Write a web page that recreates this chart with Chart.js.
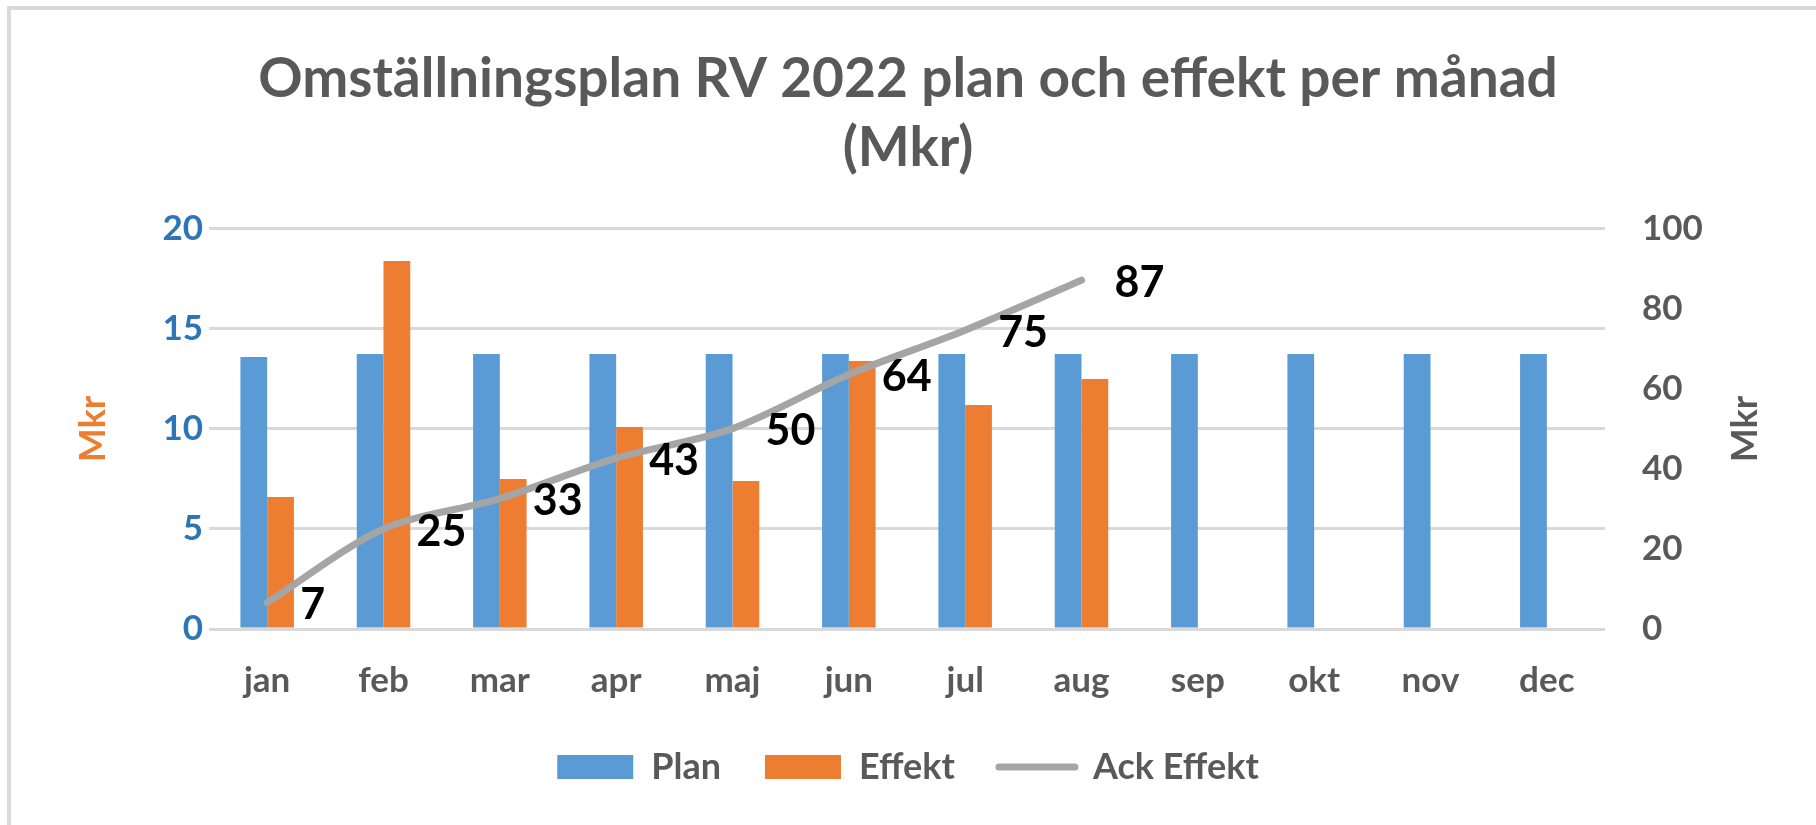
<!DOCTYPE html>
<html lang="sv">
<head>
    <meta charset="UTF-8">
    <title>Omställningsplan RV 2022</title>
    <script src="https://cdn.jsdelivr.net/npm/chart.js"></script>
    <style>
        html, body { margin: 0; padding: 0; background: #fff; }
    </style>
</head>
<body>
    <canvas id="planChart" width="1816" height="825"></canvas>

    <script>
        // Data (Mkr)
        const months = ['jan', 'feb', 'mar', 'apr', 'maj', 'jun', 'jul', 'aug', 'sep', 'okt', 'nov', 'dec'];
        const plan = [13.6, 13.75, 13.75, 13.75, 13.75, 13.75, 13.75, 13.75, 13.75, 13.75, 13.75, 13.75];
        const effekt = [6.6, 18.4, 7.5, 10.1, 7.4, 13.4, 11.2, 12.5];
        const ackEffekt = [6.6, 25.0, 32.6, 42.7, 50.1, 63.6, 74.7, 87.2];
        const leftTicks = [0, 5, 10, 15, 20];
        const rightTicks = [0, 20, 40, 60, 80, 100];

        const FONT = "Lato, 'Open Sans', sans-serif";
        const GREY_TEXT = '#595959';
        Chart.defaults.font.family = FONT;

        // bakgrund + ram (övre och vänster kant)
        const frame = {
            id: 'frame',
            beforeDraw(chart) {
                const ctx = chart.ctx;
                ctx.save();
                ctx.fillStyle = '#ffffff';
                ctx.fillRect(0, 0, chart.width, chart.height);
                ctx.fillStyle = '#dadada';
                ctx.fillRect(7, 6, chart.width - 7, 4);
                ctx.fillRect(7, 6, 4, chart.height - 6);
                ctx.restore();
            }
        };

        // etiketter för ackumulerad effekt, till höger om punkten
        const ackLabels = {
            id: 'ackLabels',
            afterDatasetsDraw(chart) {
                const ctx = chart.ctx;
                const meta = chart.getDatasetMeta(2);
                ctx.save();
                ctx.font = 'bold 43px ' + FONT;
                ctx.fillStyle = '#000000';
                ctx.textAlign = 'left';
                ctx.textBaseline = 'middle';
                meta.data.forEach((pt, i) => {
                    ctx.fillText(String(Math.round(ackEffekt[i])), pt.x + 33, pt.y + 3);
                });
                ctx.restore();
            }
        };

        // höger axeltitel, läses nedifrån och upp som den vänstra
        const rightTitle = {
            id: 'rightTitle',
            afterDraw(chart) {
                const ctx = chart.ctx;
                const area = chart.chartArea;
                ctx.save();
                ctx.translate(1745, (area.top + area.bottom) / 2);
                ctx.rotate(-Math.PI / 2);
                ctx.font = 'bold 36px ' + FONT;
                ctx.fillStyle = GREY_TEXT;
                ctx.textAlign = 'center';
                ctx.textBaseline = 'middle';
                ctx.fillText('Mkr', 0, 0);
                ctx.restore();
            }
        };

        const ctx = document.getElementById('planChart').getContext('2d');
        const planChart = new Chart(ctx, {
            type: 'bar',
            data: {
                labels: months,
                datasets: [
                    {
                        label: 'Plan',
                        data: plan,
                        backgroundColor: '#5B9BD5',
                        yAxisID: 'y',
                        order: 1
                    },
                    {
                        label: 'Effekt',
                        data: effekt,
                        backgroundColor: '#ED7D31',
                        yAxisID: 'y',
                        order: 1
                    },
                    {
                        type: 'line',
                        label: 'Ack Effekt',
                        data: ackEffekt,
                        yAxisID: 'y1',
                        borderColor: '#A5A5A5',
                        backgroundColor: '#A5A5A5',
                        borderWidth: 7,
                        borderCapStyle: 'round',
                        borderJoinStyle: 'round',
                        pointRadius: 0,
                        tension: 0.3,
                        fill: false,
                        order: 0
                    }
                ]
            },
            options: {
                responsive: false,
                animation: false,
                layout: { padding: { left: 10, right: 10, top: 8, bottom: 30 } },
                datasets: {
                    bar: { categoryPercentage: 0.46, barPercentage: 1.0 }
                },
                plugins: {
                    tooltip: { enabled: false },
                    title: {
                        display: true,
                        text: ['Omställningsplan RV 2022 plan och effekt per månad', '(Mkr)'],
                        color: GREY_TEXT,
                        font: { size: 55, weight: 'bold', lineHeight: 1.2545 },
                        padding: { top: 36.5, bottom: 46.5 }
                    },
                    legend: {
                        position: 'bottom',
                        labels: {
                            color: GREY_TEXT,
                            font: { size: 36, weight: 'bold' },
                            usePointStyle: true,
                            pointStyleWidth: 76,
                            boxWidth: 76,
                            boxHeight: 24,
                            padding: 44,
                            generateLabels: chart => chart.data.datasets.map((ds, i) => ({
                                text: ds.label,
                                fillStyle: ds.backgroundColor,
                                strokeStyle: ds.type === 'line' ? ds.borderColor : ds.backgroundColor,
                                lineWidth: ds.type === 'line' ? ds.borderWidth : 0,
                                lineCap: 'round',
                                pointStyle: ds.type === 'line' ? 'line' : 'rect',
                                fontColor: GREY_TEXT,
                                hidden: false,
                                datasetIndex: i
                            }))
                        }
                    }
                },
                scales: {
                    x: {
                        grid: { display: false, drawTicks: false },
                        border: { display: false },
                        ticks: {
                            color: GREY_TEXT,
                            font: { size: 35, weight: 'bold' },
                            padding: 31
                        },
                        afterFit: scale => { scale.height = 76; }
                    },
                    y: {
                        position: 'left',
                        min: 0,
                        max: 20,
                        afterBuildTicks: scale => { scale.ticks = leftTicks.map(v => ({ value: v })); },
                        ticks: {
                            color: '#2E75B6',
                            font: { size: 35, weight: 'bold' },
                            padding: 6
                        },
                        grid: { color: '#D9D9D9', lineWidth: 3, drawTicks: false },
                        border: { display: false },
                        title: {
                            display: true,
                            text: 'Mkr',
                            color: '#ED7D31',
                            font: { size: 36, weight: 'bold' },
                            padding: { top: 61.5, bottom: 0 }
                        },
                        afterFit: scale => { scale.width = 199; }
                    },
                    y1: {
                        position: 'right',
                        min: 0,
                        max: 100,
                        afterBuildTicks: scale => { scale.ticks = rightTicks.map(v => ({ value: v })); },
                        ticks: {
                            color: GREY_TEXT,
                            font: { size: 35, weight: 'bold' },
                            padding: 37
                        },
                        grid: { display: false, drawTicks: false },
                        border: { display: false },
                        afterFit: scale => { scale.width = 201; }
                    }
                }
            },
            plugins: [frame, ackLabels, rightTitle]
        });
    </script>
</body>
</html>
